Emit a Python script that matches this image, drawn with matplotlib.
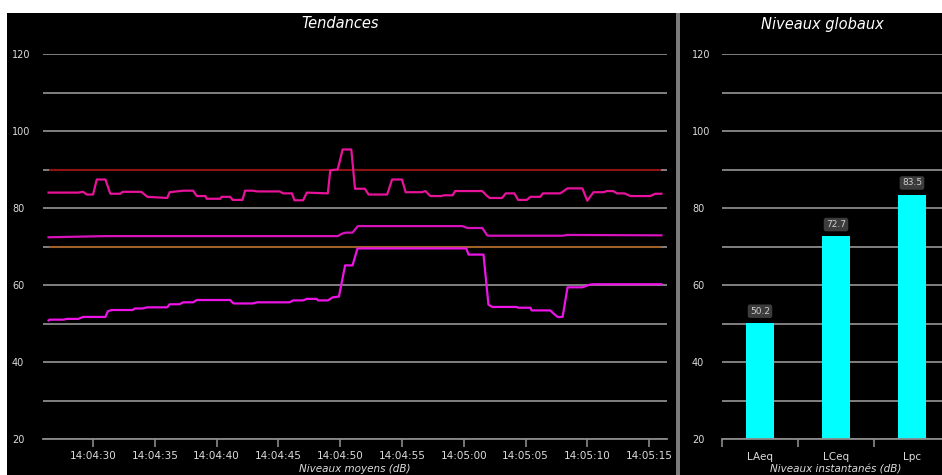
import numpy as np
import matplotlib
matplotlib.use("Agg")
import matplotlib.pyplot as plt
from matplotlib.patches import Rectangle
from matplotlib.ticker import FuncFormatter, FixedLocator

# -------------------
# data (time in seconds after 14:04:00)
# -------------------
t_top = [26.4, 28.8, 29.2, 29.5, 30.0, 30.3, 31.0, 31.4, 32.2, 32.4, 33.9, 34.4, 36.0, 36.2,
         37.3, 38.1, 38.4, 39.1, 39.2, 40.3, 40.4, 41.1, 41.3, 42.1, 42.3, 42.9, 43.3, 45.1,
         45.4, 46.1, 46.3, 47.0, 47.3, 49.0, 49.2, 49.8, 50.2, 50.9, 51.2, 52.0, 52.3, 53.8,
         54.2, 55.0, 55.3, 56.6, 56.9, 57.3, 58.2, 58.4, 59.1, 59.3, 61.5, 61.9, 62.1, 63.1,
         63.4, 64.1, 64.4, 65.1, 65.4, 66.2, 66.4, 67.8, 68.0, 68.4, 69.6, 70.0, 70.5, 71.3,
         71.6, 72.1, 72.4, 73.0, 73.5, 75.1, 75.5, 76.0]
lvl_top = [84.0, 84.0, 84.2, 83.5, 83.5, 87.4, 87.4, 83.7, 83.7, 84.2, 84.2, 82.9, 82.6, 84.1,
           84.5, 84.5, 83.1, 83.1, 82.4, 82.4, 82.9, 82.9, 82.1, 82.1, 84.5, 84.5, 84.3, 84.3,
           83.8, 83.8, 82.0, 82.0, 84.0, 83.8, 89.8, 90.0, 95.2, 95.2, 85.0, 85.0, 83.5, 83.5,
           87.4, 87.4, 84.1, 84.1, 84.4, 83.1, 83.1, 83.3, 83.3, 84.4, 84.4, 83.1, 82.6, 82.6,
           83.8, 83.8, 82.1, 82.1, 82.9, 82.9, 83.8, 83.8, 84.2, 85.1, 85.1, 81.9, 84.1, 84.1,
           84.4, 84.4, 83.8, 83.8, 83.1, 83.1, 83.7, 83.7]

t_mid = [26.4, 28.0, 31.0, 49.8, 50.2, 50.5, 51.0, 51.4, 51.5, 59.9, 60.3, 61.5, 61.9, 62.1,
         68.0, 68.4, 76.0]
lvl_mid = [72.4, 72.5, 72.7, 72.7, 73.4, 73.6, 73.6, 75.2, 75.3, 75.3, 74.8, 74.8, 72.9, 72.8,
           72.8, 73.0, 72.9]

t_low = [26.4, 26.5, 27.6, 27.9, 28.8, 29.2, 31.0, 31.2, 31.5, 33.2, 33.4, 34.0, 34.4, 36.0,
         36.2, 37.0, 37.3, 38.1, 38.4, 41.1, 41.3, 41.4, 42.9, 43.3, 45.9, 46.2, 47.0, 47.3,
         48.1, 48.2, 49.0, 49.4, 49.9, 50.4, 51.0, 51.4, 60.2, 60.4, 61.6, 62.0, 62.3, 64.3,
         64.4, 65.4, 65.5, 67.0, 67.2, 67.6, 68.0, 68.4, 69.6, 70.2, 70.5, 76.0]
lvl_low = [50.8, 51.0, 51.0, 51.2, 51.2, 51.7, 51.7, 53.2, 53.5, 53.5, 53.9, 53.9, 54.2, 54.2,
           55.0, 55.0, 55.5, 55.5, 56.1, 56.1, 55.4, 55.2, 55.2, 55.5, 55.5, 56.0, 56.0, 56.4,
           56.4, 56.0, 56.0, 56.8, 57.0, 65.1, 65.1, 69.5, 69.5, 67.9, 67.9, 54.9, 54.3, 54.3,
           54.1, 54.1, 53.4, 53.4, 52.8, 51.7, 51.7, 59.4, 59.4, 60.1, 60.2, 60.2]

thresholds = [90, 70]
threshold_colors = ['#8e1414', '#a0602a']

bar_names = ['LAeq', 'LCeq', 'Lpc']
bar_values = [50.2, 72.7, 83.5]

time_ticks = [30, 35, 40, 45, 50, 55, 60, 65, 70, 75]

# -------------------
# figure
# -------------------
W, H = 942, 475
fig = plt.figure(figsize=(W / 100, H / 100), dpi=100, facecolor='white')
fig.patches.append(Rectangle((7 / W, 0), 1, 1 - 13 / H, transform=fig.transFigure,
                             facecolor='black', edgecolor='none', zorder=-2))
fig.patches.append(Rectangle((676 / W, 0), 4 / W, 1 - 13 / H, transform=fig.transFigure,
                             facecolor='#7a7a7a', edgecolor='none', zorder=-1))

bottom = 1 - 439 / H
height = (439 - 54) / H
ax = fig.add_axes([43 / W, bottom, (667 - 43) / W, height])
ax2 = fig.add_axes([722 / W, bottom, (950 - 722) / W, height])

txt = '#dcdcdc'
grid_c = '#8a8a8a'
px = 0.72  # points per pixel at 100 dpi

for a in (ax, ax2):
    a.patch.set_visible(False)
    a.set_ylim(20, 120)
    for s in ('top', 'right', 'left'):
        a.spines[s].set_visible(False)
    a.spines['bottom'].set_color(grid_c)
    a.spines['bottom'].set_linewidth(1.3)
    a.yaxis.set_major_locator(FixedLocator([20, 40, 60, 80, 100, 120]))
    a.yaxis.set_minor_locator(FixedLocator(np.arange(30, 121, 10)))
    a.grid(axis='y', which='both', color=grid_c, lw=1.3, zorder=1)
    a.tick_params(axis='y', which='both', length=0, labelsize=7, labelcolor=txt)
    a.tick_params(axis='x', which='both', colors=grid_c, labelcolor=txt, labelsize=7.5)
    a.set_axisbelow(True)
    for lbl in a.get_yticklabels():
        lbl.set_horizontalalignment('left')

ax.tick_params(axis='y', pad=31 * px)
ax2.tick_params(axis='y', pad=30 * px)

# --- trends
ax.set_xlim(25.95, 76.45)
for lvl, c in zip(thresholds, threshold_colors):
    ax.hlines(lvl, t_top[0], t_top[-1], color=c, lw=1.5, zorder=2)
ax.plot(t_mid, lvl_mid, color='#d812bd', lw=1.6, zorder=3)
ax.plot(t_top, lvl_top, color='#e8129b', lw=1.6, zorder=3)
ax.plot(t_low, lvl_low, color='#ee14e8', lw=1.6, zorder=3)
ax.set_xticks(time_ticks)
ax.xaxis.set_major_formatter(FuncFormatter(
    lambda v, p: '14:%02d:%02d' % (4 + int(round(v)) // 60, int(round(v)) % 60)))
ax.tick_params(axis='x', length=8 * px, width=1.2, pad=3)
ax.set_xlabel('Niveaux moyens (dB)', color=txt, fontsize=7.5, style='italic', labelpad=2)

# --- global levels
xpos = np.arange(len(bar_names))
ax2.bar(xpos, bar_values, width=0.38, color='#00ffff', zorder=2)
ax2.set_xlim(-0.5, 2.5)
ax2.set_xticks(xpos)
ax2.set_xticklabels(bar_names)
ax2.set_xticks([-0.5, 0.5, 1.5], minor=True)
ax2.tick_params(axis='x', which='major', length=0, pad=9)
ax2.tick_params(axis='x', which='minor', length=8 * px, width=1.2)
ax2.set_xlabel('Niveaux instantanés (dB)', color=txt, fontsize=7.5, style='italic', labelpad=2)
for xp, v in zip(xpos, bar_values):
    ax2.text(xp, v + 3.0, '%.1f' % v, ha='center', va='center', fontsize=6.5, color='#cfcfcf',
             bbox=dict(boxstyle='round,pad=0.25', fc='#3c3c3c', ec='none'), zorder=4)

fig.text(340 / W, 1 - 24 / H, 'Tendances', color='white', fontsize=10.5, style='italic',
         ha='center', va='center')
fig.text(822 / W, 1 - 24 / H, 'Niveaux globaux', color='white', fontsize=10.5, style='italic',
         ha='center', va='center')

fig.savefig('out.png', dpi=100, facecolor='white')
